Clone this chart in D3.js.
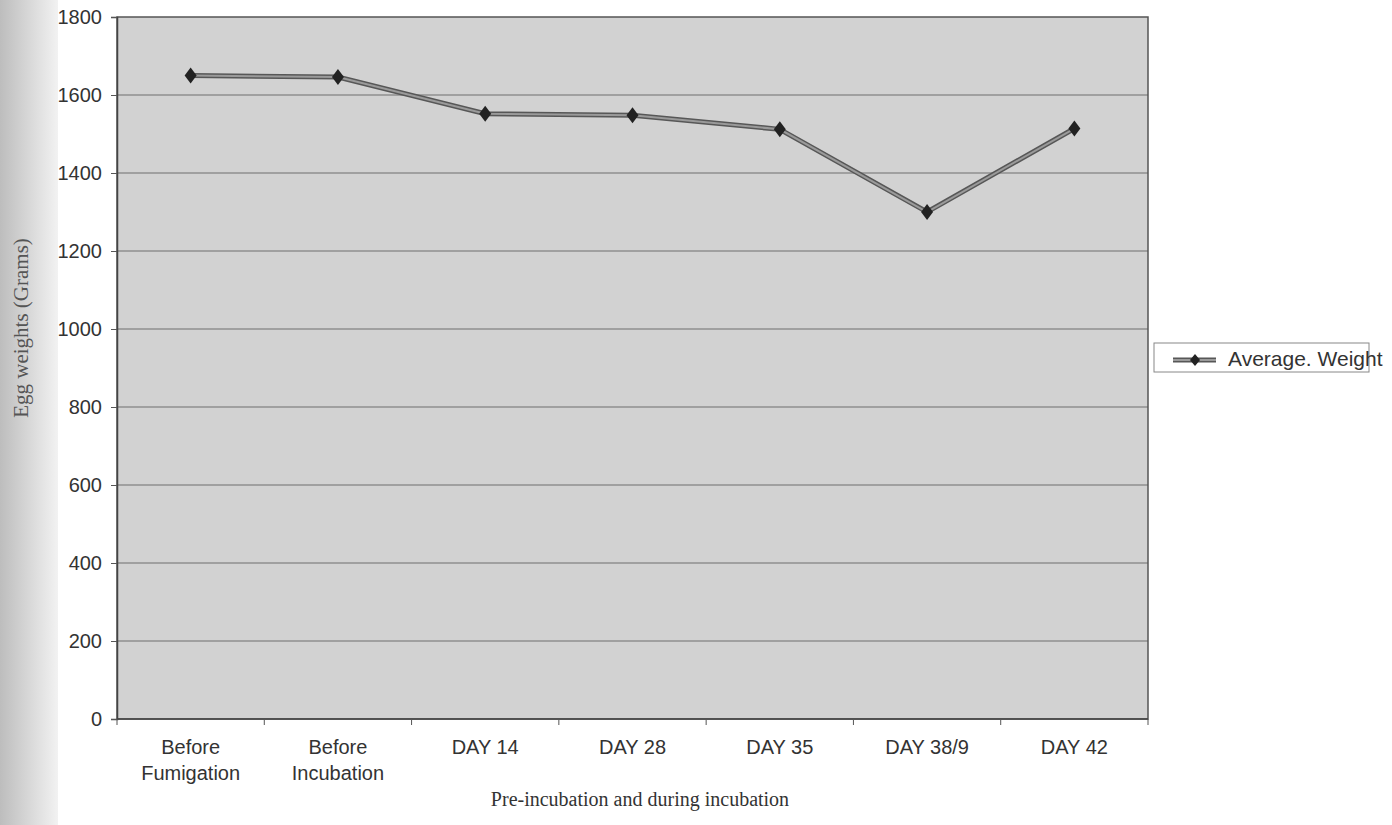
<!DOCTYPE html>
<html>
<head>
<meta charset="utf-8">
<script src="https://cdn.jsdelivr.net/npm/d3@7"></script>
<style>
  body { margin: 0; background: #fff; }
  svg { display: block; }
</style>
</head>
<body>
<div id="chart"></div>
<script>
// Egg weights line chart

var categories = [
  ["Before", "Fumigation"],
  ["Before", "Incubation"],
  ["DAY 14"],
  ["DAY 28"],
  ["DAY 35"],
  ["DAY 38/9"],
  ["DAY 42"]
];
var avgWeight = [1650, 1646, 1552, 1548, 1512, 1300, 1514];
var yTicks = [0, 200, 400, 600, 800, 1000, 1200, 1400, 1600, 1800];
var seriesName = "Average. Weight";

var width = 1392, height = 825;
var margin = {top: 17, bottom: 106, left: 117, right: 244};
var plotWidth = width - margin.left - margin.right;
var plotHeight = height - margin.top - margin.bottom;

var sans = "Liberation Sans, Arial, sans-serif";
var serif = "Liberation Serif, Times New Roman, serif";

var svg = d3.select("#chart").append("svg")
  .attr("width", width)
  .attr("height", height);

// scan shadow on the left edge
var defs = svg.append("defs");
var grad = defs.append("linearGradient").attr("id", "shadow");
grad.append("stop").attr("offset", "0%").attr("stop-color", "#bdbdbd");
grad.append("stop").attr("offset", "100%").attr("stop-color", "#f2f2f2");
svg.append("rect")
  .attr("x", 0).attr("y", 0)
  .attr("width", 58).attr("height", height)
  .attr("fill", "url(#shadow)");

var plot = svg.append("g")
  .attr("transform", "translate(" + margin.left + "," + margin.top + ")");

// scales
var xScale = d3.scaleBand()
  .range([0, plotWidth])
  .domain(d3.range(categories.length));
var yScale = d3.scaleLinear()
  .range([plotHeight, 0])
  .domain([0, 1800]);

// plot background
plot.append("rect")
  .attr("width", plotWidth)
  .attr("height", plotHeight)
  .attr("fill", "#d2d2d2");

// gridlines
plot.append("g")
  .selectAll("line")
  .data(yTicks.filter(function(d) { return d > 0 && d < 1800; }))
  .enter().append("line")
  .attr("x1", 0).attr("x2", plotWidth)
  .attr("y1", function(d) { return yScale(d); })
  .attr("y2", function(d) { return yScale(d); })
  .attr("stroke", "#6e6e6e")
  .attr("stroke-width", 1.2);

// border
plot.append("rect")
  .attr("width", plotWidth)
  .attr("height", plotHeight)
  .attr("fill", "none")
  .attr("stroke", "#555")
  .attr("stroke-width", 1.5);

// y axis
var yAxis = d3.axisLeft(yScale)
  .tickValues(yTicks)
  .tickFormat(d3.format("d"))
  .tickSize(6)
  .tickPadding(9);
var yG = plot.append("g").call(yAxis);
yG.attr("font-family", sans).attr("font-size", 20);
yG.select(".domain").attr("stroke", "#444").attr("stroke-width", 1.5);
yG.selectAll(".tick line").attr("stroke", "#555");
yG.selectAll(".tick text").attr("fill", "#333");

// x axis: tick marks between categories
var xG = plot.append("g")
  .attr("transform", "translate(0," + plotHeight + ")");
xG.append("line")
  .attr("x1", 0).attr("x2", plotWidth)
  .attr("stroke", "#444").attr("stroke-width", 1.5);
xG.selectAll(".tk")
  .data(d3.range(categories.length + 1))
  .enter().append("line")
  .attr("x1", function(i) { return i * xScale.step(); })
  .attr("x2", function(i) { return i * xScale.step(); })
  .attr("y1", 0).attr("y2", 6)
  .attr("stroke", "#555");
var xLabels = xG.selectAll(".lbl")
  .data(categories)
  .enter().append("text")
  .attr("text-anchor", "middle")
  .attr("font-family", sans)
  .attr("font-size", 20)
  .attr("fill", "#333")
  .attr("transform", function(d, i) {
    return "translate(" + (xScale(i) + xScale.bandwidth() / 2) + ",35)";
  });
xLabels.selectAll("tspan")
  .data(function(d) { return d; })
  .enter().append("tspan")
  .attr("x", 0)
  .attr("dy", function(d, i) { return i === 0 ? 0 : 26; })
  .text(function(d) { return d; });

// series line (double stroke look)
var line = d3.line()
  .x(function(d, i) { return xScale(i) + xScale.bandwidth() / 2; })
  .y(function(d) { return yScale(d); });
plot.append("path")
  .datum(avgWeight)
  .attr("d", line)
  .attr("fill", "none")
  .attr("stroke", "#575757")
  .attr("stroke-width", 5);
plot.append("path")
  .datum(avgWeight)
  .attr("d", line)
  .attr("fill", "none")
  .attr("stroke", "#9a9a9a")
  .attr("stroke-width", 2);

// diamond markers
var diamond = "M0,-8L6,0L0,8L-6,0Z";
plot.selectAll(".pt")
  .data(avgWeight)
  .enter().append("path")
  .attr("d", diamond)
  .attr("transform", function(d, i) {
    return "translate(" + (xScale(i) + xScale.bandwidth() / 2) + "," + yScale(d) + ")";
  })
  .attr("fill", "#222");

// axis titles
svg.append("text")
  .attr("x", 640).attr("y", 806)
  .attr("text-anchor", "middle")
  .attr("font-family", serif)
  .attr("font-size", 20)
  .attr("fill", "#333")
  .text("Pre-incubation and during incubation");
svg.append("text")
  .attr("transform", "translate(28,328) rotate(-90)")
  .attr("text-anchor", "middle")
  .attr("font-family", serif)
  .attr("font-size", 21)
  .attr("fill", "#555")
  .text("Egg weights (Grams)");

// legend
var legend = svg.append("g").attr("transform", "translate(1154,343)");
legend.append("rect")
  .attr("width", 215).attr("height", 29)
  .attr("fill", "#fff")
  .attr("stroke", "#888");
legend.append("line")
  .attr("x1", 19).attr("x2", 62).attr("y1", 17).attr("y2", 17)
  .attr("stroke", "#575757").attr("stroke-width", 5);
legend.append("line")
  .attr("x1", 19).attr("x2", 62).attr("y1", 17).attr("y2", 17)
  .attr("stroke", "#9a9a9a").attr("stroke-width", 2);
legend.append("path")
  .attr("d", "M0,-6L5,0L0,6L-5,0Z")
  .attr("transform", "translate(41,17)")
  .attr("fill", "#222");
legend.append("text")
  .attr("x", 74).attr("y", 23)
  .attr("font-family", sans)
  .attr("font-size", 21)
  .attr("fill", "#333")
  .text(seriesName);
</script>
</body>
</html>
